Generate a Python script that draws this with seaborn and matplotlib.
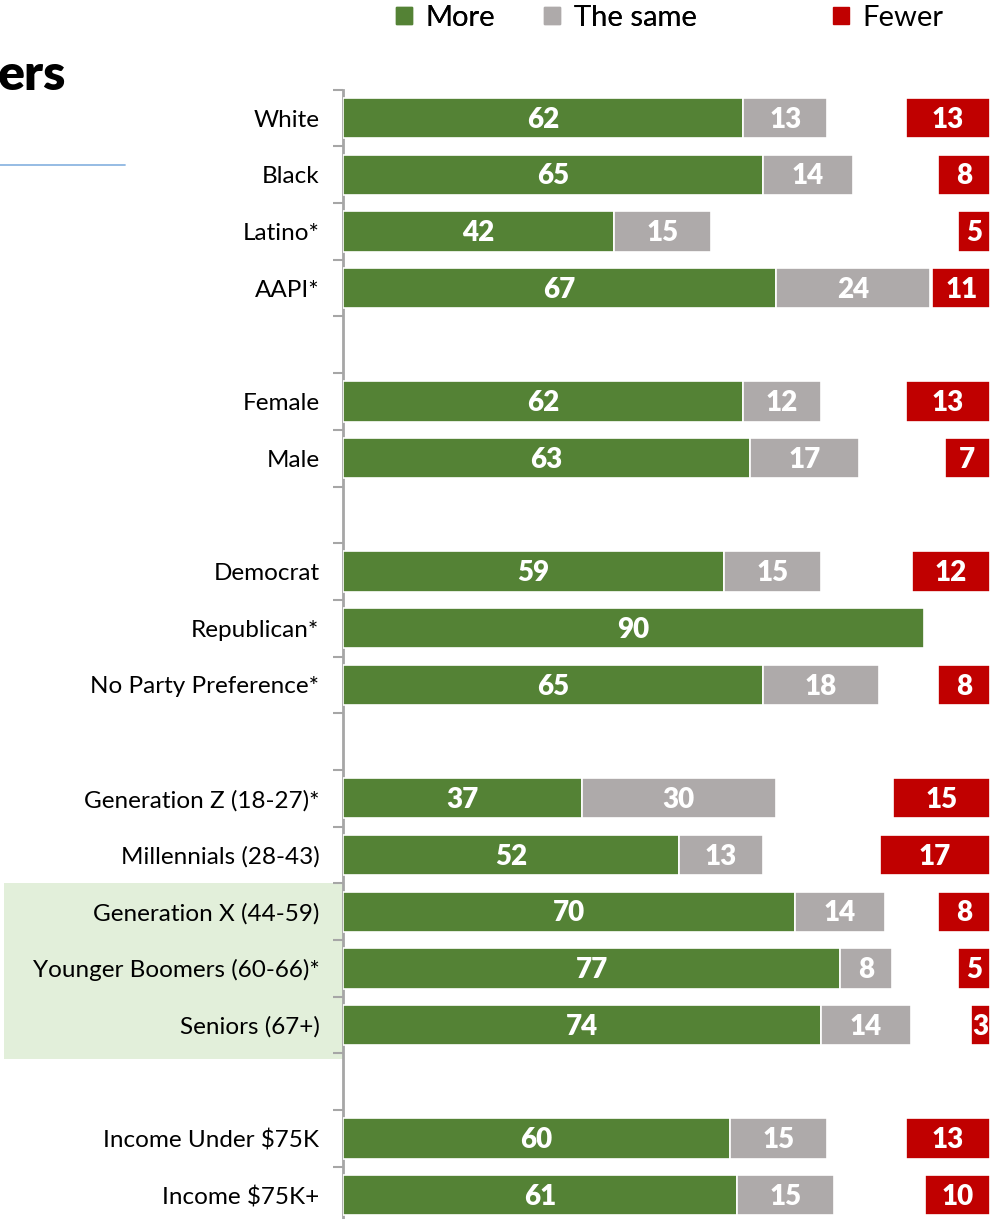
import matplotlib
matplotlib.use('Agg')
import matplotlib.pyplot as plt
from matplotlib.patches import Patch, Rectangle
from matplotlib.lines import Line2D
from matplotlib.transforms import blended_transform_factory
import numpy as np
import pandas as pd
import seaborn as sns

# Данные
groups = ['White', 'Black', 'Latino*', 'AAPI*', 'Female', 'Male', 'Democrat', 'Republican*',
          'No Party Preference*', 'Generation Z (18-27)*', 'Millennials (28-43)',
          'Generation X (44-59)', 'Younger Boomers (60-66)*', 'Seniors (67+)',
          'Income Under $75K', 'Income $75K+']
more = [62, 65, 42, 67, 62, 63, 59, 90, 65, 37, 52, 70, 77, 74, 60, 61]
same = [13, 14, 15, 24, 12, 17, 15, np.nan, 18, 30, 13, 14, 8, 14, 15, 15]
fewer = [13, 8, 5, 11, 13, 7, 12, np.nan, 8, 15, 17, 8, 5, 3, 13, 10]
# позиции строк (пустые строки между блоками)
slots = [0, 1, 2, 3, 5, 6, 8, 9, 10, 12, 13, 14, 15, 16, 18, 19]

GREEN = '#548235'
GREY = '#AEAAAA'
RED = '#C00000'

sns.set_theme(style='white')
plt.rcParams['font.family'] = ['Lato', 'DejaVu Sans']
plt.rcParams['text.color'] = 'black'

df = pd.DataFrame({'group': groups, 'more': more, 'same': same, 'fewer': fewer, 'slot': slots})

fig = plt.figure(figsize=(9.95, 12.19), dpi=100)
W, H = 995, 1219
ax = fig.add_axes([343 / W, -4.5 / H, 1 - 343 / W, (1223.5 - 89.7) / H])

bar_h = 0.71
sns.barplot(data=df, x='more', y='slot', orient='y', native_scale=True, color=GREEN,
            saturation=1, width=bar_h, errorbar=None, edgecolor='white', linewidth=1.2,
            ax=ax, zorder=3)
ax.barh(df['slot'], df['same'], left=df['more'], height=bar_h, color=GREY,
        edgecolor='white', linewidth=1.2, zorder=3)
right_end = 100.2
fewer_left = np.maximum(right_end - df['fewer'], df['more'] + df['same'].fillna(0) + 0.3)
ax.barh(df['slot'], right_end - fewer_left, left=fewer_left, height=bar_h, color=RED,
        edgecolor='white', linewidth=1.2, zorder=3)

# подписи значений
lab = dict(color='white', fontsize=20, fontweight='heavy', ha='center', va='center', zorder=4)
for _, r in df.iterrows():
    ax.text(r['more'] / 2, r['slot'] + 0.03, f"{int(r['more'])}", **lab)
    if not np.isnan(r['same']):
        ax.text(r['more'] + r['same'] / 2, r['slot'] + 0.03, f"{int(r['same'])}", **lab)
    if not np.isnan(r['fewer']):
        fl = max(right_end - r['fewer'], r['more'] + r['same'] + 0.3)
        ax.text((fl + right_end) / 2, r['slot'] + 0.03, f"{int(r['fewer'])}", **lab)

ax.set_xlim(0, 652 / 6.456)
ax.set_ylim(19.5, -0.5)
ax.set_xlabel('')
ax.set_ylabel('')
ax.set_xticks([])
ax.set_yticks(slots)
ax.set_yticklabels(groups, fontsize=17.5, color='black')
ax.set_yticks(np.arange(-0.5, 20, 1), minor=True)
ax.tick_params(axis='y', which='major', length=0, pad=17)
ax.tick_params(axis='y', which='minor', left=True, length=7, width=1.5, color='#A6A6A6')
for s in ['top', 'right', 'bottom']:
    ax.spines[s].set_visible(False)
ax.spines['left'].set_color('#A6A6A6')
ax.spines['left'].set_linewidth(2)
ax.patch.set_alpha(0)

# подсветка поколений
tr = blended_transform_factory(fig.transFigure, ax.transData)
ax.add_patch(Rectangle((4 / W, 13.5), 343 / W - 4 / W, 3.1, transform=tr,
                       facecolor='#E2EFDA', edgecolor='none', clip_on=False, zorder=0))

# легенда
leg1 = fig.legend(handles=[Patch(color=GREEN, label='More'), Patch(color=GREY, label='The same')],
                  loc='center left', bbox_to_anchor=(396 / W, 1 - 18 / H), ncol=2, frameon=False,
                  fontsize=21, handlelength=0.55, handleheight=0.55, handletextpad=0.45,
                  columnspacing=1.7, borderpad=0, borderaxespad=0)
fig.add_artist(leg1)
fig.legend(handles=[Patch(color=RED, label='Fewer')],
           loc='center left', bbox_to_anchor=(833 / W, 1 - 18 / H), frameon=False,
           fontsize=21, handlelength=0.55, handleheight=0.55, handletextpad=0.45,
           borderpad=0, borderaxespad=0)

# обрезанный заголовок и линия
fig.text(-0.002, 1 - 76 / H, 'ers', fontsize=36, fontweight='heavy', color='black',
         ha='left', va='center')
fig.add_artist(Line2D([0, 125 / W], [1 - 165 / H] * 2, color='#8DB6E2', lw=1.3))

fig.savefig('out.png', dpi=100)
